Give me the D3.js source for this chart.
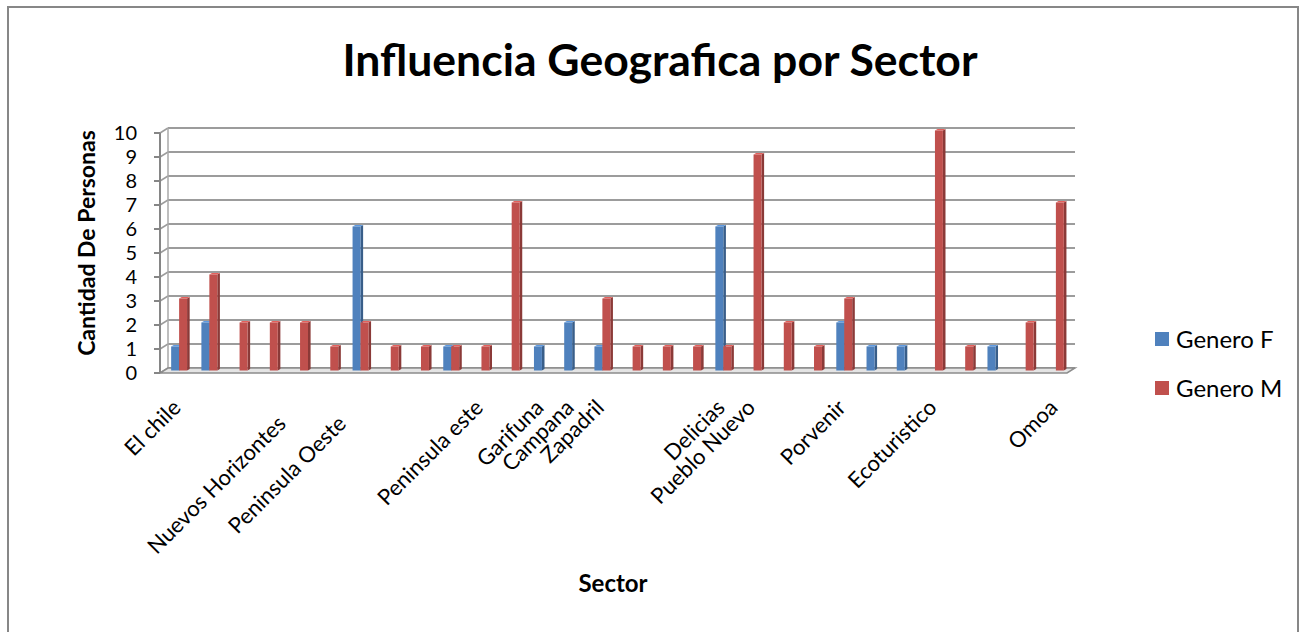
<!DOCTYPE html>
<html>
<head>
<meta charset="utf-8">
<script src="https://cdn.jsdelivr.net/npm/d3@7"></script>
<style>
  body { margin: 0; background: #fff; }
  text { font-family: Lato, "Open Sans", sans-serif; fill: #000; }
</style>
</head>
<body>
<div id="chart"></div>
<script>
// data (most sectors have no label in the original sheet)
var sectors = ["El chile", "", "", "", "Nuevos Horizontes\u00a0\u00a0\u00a0\u00a0", "",
  "Peninsula Oeste\u00a0\u00a0\u00a0\u00a0", "", "", "", "Peninsula este", "",
  "Garifuna", "Campana", "Zapadril", "", "", "", "Delicias", "Pueblo Nuevo",
  "", "", "Porvenir", "", "", "Ecoturistico", "", "", "", "Omoa"]
var generoF = [1, 2, 0, 0, 0, 0, 6, 0, 0, 1, 0, 0, 1, 2, 1, 0, 0, 0, 6, 0, 0, 0, 2, 1, 1, 0, 0, 1, 0, 0]
var generoM = [3, 4, 2, 2, 2, 1, 2, 1, 1, 1, 1, 7, 0, 0, 3, 1, 1, 1, 1, 9, 2, 1, 3, 0, 0, 10, 1, 0, 2, 7]
var yTicks = [0, 1, 2, 3, 4, 5, 6, 7, 8, 9, 10]
var seriesNames = ["Genero F", "Genero M"]
var seriesColors = ["#4F81BD", "#C0504D"]

var width = 1301, height = 632
var depth = {dx: 8, dy: -5}   // fake 3d depth of the floor / walls

var svg = d3.select("#chart")
    .append("svg")
    .attr("width", width)
    .attr("height", height)

// chart area border
svg.append("rect")
    .attr("x", 8).attr("y", 7)
    .attr("width", 1290).attr("height", 640)
    .attr("fill", "#fff")
    .attr("stroke", "#878787")
    .attr("stroke-width", 2)

// scales
var x = d3.scaleBand()
    .domain(d3.range(sectors.length))
    .range([160, 1067])
var xSub = d3.scaleBand()
    .domain([0, 1])
    .range([0, x.bandwidth()])
    .paddingOuter(0.9)
var y = d3.scaleLinear()
    .domain([0, 10])
    .range([373, 133])

var x0 = x.range()[0], x1 = x.range()[1]

// back wall gridlines
svg.selectAll(".grid")
    .data(yTicks)
    .enter()
    .append("line")
        .attr("x1", x0 + depth.dx).attr("x2", x1 + depth.dx)
        .attr("y1", function(d) { return y(d) + depth.dy })
        .attr("y2", function(d) { return y(d) + depth.dy })
        .attr("stroke", "#9c9c9c")
        .attr("stroke-width", 2)

// side wall connectors
svg.selectAll(".side")
    .data(yTicks)
    .enter()
    .append("line")
        .attr("x1", x0).attr("x2", x0 + depth.dx)
        .attr("y1", function(d) { return y(d) })
        .attr("y2", function(d) { return y(d) + depth.dy })
        .attr("stroke", "#9c9c9c")
        .attr("stroke-width", 1.5)
svg.append("line")
    .attr("x1", x0 + depth.dx).attr("x2", x0 + depth.dx)
    .attr("y1", y(0) + depth.dy).attr("y2", y(10) + depth.dy)
    .attr("stroke", "#a8a8a8")
    .attr("stroke-width", 1.5)

// floor
svg.append("path")
    .attr("d", "M" + x0 + "," + y(0) + "L" + x1 + "," + y(0) +
        "L" + (x1 + depth.dx) + "," + (y(0) + depth.dy) +
        "L" + (x0 + depth.dx) + "," + (y(0) + depth.dy) + "Z")
    .attr("fill", "#e4e4e4")
    .attr("stroke", "#8c8c8c")
    .attr("stroke-width", 1.5)

// front y axis
svg.append("line")
    .attr("x1", x0).attr("x2", x0)
    .attr("y1", y(0)).attr("y2", y(10))
    .attr("stroke", "#868686")
    .attr("stroke-width", 2)
svg.selectAll(".tick")
    .data(yTicks)
    .enter()
    .append("line")
        .attr("x1", x0 - 6).attr("x2", x0)
        .attr("y1", function(d) { return y(d) })
        .attr("y2", function(d) { return y(d) })
        .attr("stroke", "#868686")
        .attr("stroke-width", 2)
svg.selectAll(".ytick")
    .data(yTicks)
    .enter()
    .append("text")
        .attr("x", 137)
        .attr("y", function(d) { return y(d) })
        .attr("dy", "0.36em")
        .attr("text-anchor", "end")
        .style("font-size", "20px")
        .text(function(d) { return d })

// 3d columns
var bars = []
sectors.forEach(function(s, i) {
    [generoF[i], generoM[i]].forEach(function(v, k) {
        if (v > 0) bars.push({i: i, k: k, v: v})
    })
})
var bw = xSub.bandwidth(), sd = 2.6
var g = svg.selectAll(".bar")
    .data(bars)
    .enter()
    .append("g")
    .attr("transform", function(d) {
        return "translate(" + (x(d.i) + xSub(d.k) + depth.dx / 2) + "," + (depth.dy / 2) + ")"
    })
g.append("path")   // side
    .attr("d", function(d) {
        return "M" + bw + "," + y(d.v) + "L" + (bw + sd) + "," + (y(d.v) - 1.6) +
            "L" + (bw + sd) + "," + (y(0) - 1.6) + "L" + bw + "," + y(0) + "Z"
    })
    .attr("fill", function(d) { return d3.color(seriesColors[d.k]).darker(0.9) })
g.append("path")   // top
    .attr("d", function(d) {
        return "M0," + y(d.v) + "L" + sd + "," + (y(d.v) - 1.6) +
            "L" + (bw + sd) + "," + (y(d.v) - 1.6) + "L" + bw + "," + y(d.v) + "Z"
    })
    .attr("fill", function(d) { return d3.color(seriesColors[d.k]).brighter(0.5) })
g.append("rect")   // front
    .attr("x", 0)
    .attr("y", function(d) { return y(d.v) })
    .attr("width", bw)
    .attr("height", function(d) { return y(0) - y(d.v) })
    .attr("fill", function(d) { return seriesColors[d.k] })

// category labels
svg.selectAll(".xlab")
    .data(sectors)
    .enter()
    .append("text")
        .attr("transform", function(d, i) {
            return "translate(" + (x(i) + x.bandwidth() / 2 + 7) + ",409) rotate(-45)"
        })
        .attr("text-anchor", "end")
        .style("font-size", "22px")
        .style("white-space", "pre")
        .text(function(d) { return d })

// titles
svg.append("text")
    .attr("x", 660).attr("y", 76)
    .attr("text-anchor", "middle")
    .style("font-size", "44.5px")
    .style("font-weight", "bold")
    .text("Influencia Geografica por Sector")
svg.append("text")
    .attr("transform", "translate(95,243) rotate(-90)")
    .attr("text-anchor", "middle")
    .style("font-size", "23px")
    .style("font-weight", "bold")
    .text("Cantidad De Personas")
svg.append("text")
    .attr("x", 613).attr("y", 592)
    .attr("text-anchor", "middle")
    .style("font-size", "24px")
    .style("font-weight", "bold")
    .text("Sector")

// legend
var legY = d3.scalePoint().domain(seriesNames).range([339, 388])
svg.selectAll(".legkey")
    .data(seriesNames)
    .enter()
    .append("rect")
        .attr("x", 1155)
        .attr("y", function(d) { return legY(d) - 7 })
        .attr("width", 14).attr("height", 14)
        .attr("fill", function(d, i) { return seriesColors[i] })
svg.selectAll(".legtext")
    .data(seriesNames)
    .enter()
    .append("text")
        .attr("x", 1176)
        .attr("y", function(d) { return legY(d) })
        .attr("dy", "0.36em")
        .style("font-size", "24px")
        .text(function(d) { return d })
</script>
</body>
</html>
